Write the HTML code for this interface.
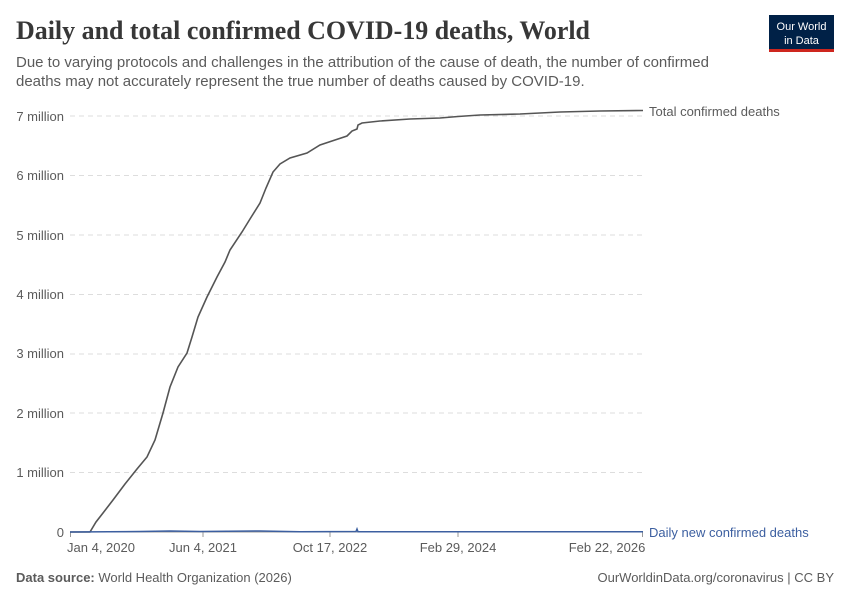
<!DOCTYPE html>
<html><head><meta charset="utf-8"><style>
body{margin:0;width:850px;height:600px;background:#fff;font-family:"Liberation Sans",sans-serif;overflow:hidden}
</style></head><body>
<svg width="850" height="600" xmlns="http://www.w3.org/2000/svg" font-family="Liberation Sans, sans-serif">
<text x="16" y="39" font-family="Liberation Serif, serif" font-weight="bold" font-size="26" fill="#373737" textLength="574" lengthAdjust="spacingAndGlyphs">Daily and total confirmed COVID-19 deaths, World</text>
<text x="16" y="67" font-size="15" fill="#5b5b5b">Due to varying protocols and challenges in the attribution of the cause of death, the number of confirmed</text>
<text x="16" y="86" font-size="15" fill="#5b5b5b">deaths may not accurately represent the true number of deaths caused by COVID-19.</text>
<rect x="769" y="15" width="65" height="36" fill="#002147"/>
<rect x="769" y="49" width="65" height="3" fill="#ce261e"/>
<text x="801.5" y="30" font-size="11" fill="#fff" text-anchor="middle">Our World</text>
<text x="801.5" y="44" font-size="11" fill="#fff" text-anchor="middle">in Data</text>
<g stroke="#ddd" stroke-dasharray="5,4">
<line x1="70" x2="643" y1="116" y2="116"/><line x1="70" x2="643" y1="175.5" y2="175.5"/><line x1="70" x2="643" y1="235" y2="235"/><line x1="70" x2="643" y1="294.5" y2="294.5"/><line x1="70" x2="643" y1="354" y2="354"/><line x1="70" x2="643" y1="413" y2="413"/><line x1="70" x2="643" y1="472.5" y2="472.5"/>
</g>
<line x1="70" x2="643" y1="532" y2="532" stroke="#999"/>
<g stroke="#999"><line x1="70.5" x2="70.5" y1="532" y2="537"/><line x1="203" x2="203" y1="532" y2="537"/><line x1="330" x2="330" y1="532" y2="537"/><line x1="458" x2="458" y1="532" y2="537"/><line x1="642.5" x2="642.5" y1="532" y2="537"/></g>
<g font-size="13" fill="#5b5b5b" text-anchor="middle">
<text x="64" y="537" text-anchor="end">0</text>
<text x="101" y="552">Jan 4, 2020</text><text x="203" y="552">Jun 4, 2021</text><text x="330" y="552">Oct 17, 2022</text><text x="458" y="552">Feb 29, 2024</text><text x="607" y="552">Feb 22, 2026</text>
</g>
<g font-size="13" fill="#5b5b5b" text-anchor="end">
<text x="64" y="121">7 million</text><text x="64" y="180">6 million</text><text x="64" y="240">5 million</text><text x="64" y="299">4 million</text><text x="64" y="358">3 million</text><text x="64" y="418">2 million</text><text x="64" y="477">1 million</text>
</g>
<path fill="none" stroke="#555" stroke-width="1.6" d="M70 532 L90 532 L96 522 L103 513 L113 500 L125 484 L137 469 L147 457 L155 440 L163 413 L170 387 L178 367 L187 353 L192 337 L198 317 L207 297 L217 277 L225 262 L230 250 L242 232 L250 219 L260 203 L266 188 L273 172 L280 164 L290 158 L307 153 L320 145 L335 140 L347 136 L352 131 L357 129 L358 125 L362 123 L380 121 L410 119 L440 118 L458 116.5 L480 115 L520 114 L560 112 L600 111 L643 110.5"/>
<path fill="none" stroke="#3c5fa0" stroke-width="1.5" d="M70 532 L140 531.5 L170 531 L200 531.5 L260 531 L300 531.8 L356 531.5 L357 529 L358 531.8 L643 531.8"/>
<text x="649" y="116" font-size="13" fill="#5b5b5b">Total confirmed deaths</text>
<text x="649" y="537" font-size="13" fill="#3c5fa0">Daily new confirmed deaths</text>
<text x="16" y="582" font-size="13" fill="#5b5b5b"><tspan font-weight="bold">Data source:</tspan> World Health Organization (2026)</text>
<text x="834" y="582" font-size="13" fill="#5b5b5b" text-anchor="end">OurWorldinData.org/coronavirus | CC BY</text>
</svg>
</body></html>
